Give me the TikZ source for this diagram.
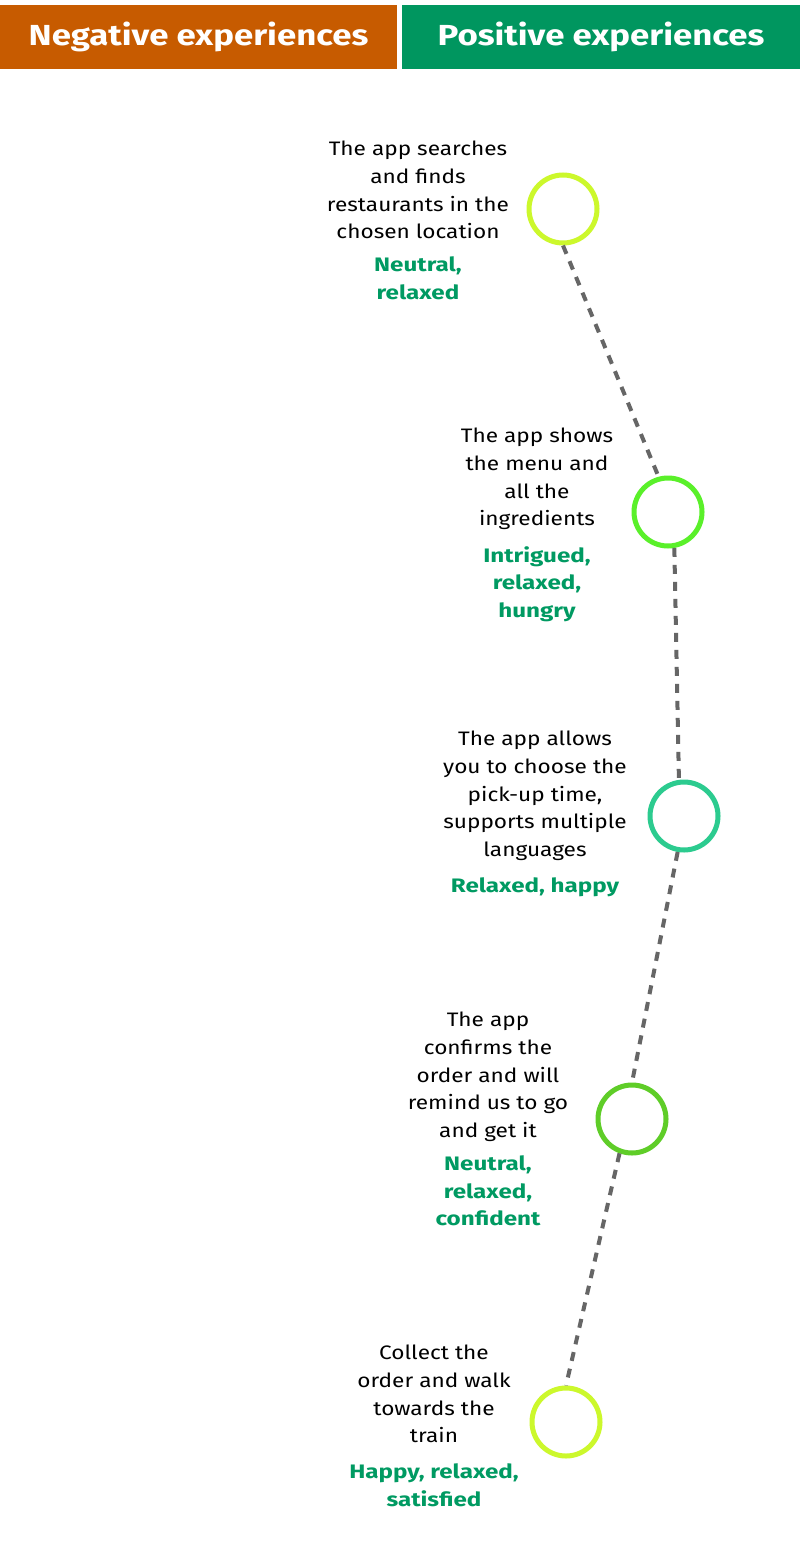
\documentclass[tikz,border=0pt]{standalone}
\usepackage{fontspec}
\setmainfont{Fira Sans}[FakeStretch=1.16]
\newfontfamily\headfont{Fira Sans}[FakeStretch=1.2]
\newfontfamily\emofont{Fira Sans}[FakeStretch=1.24]
\definecolor{negc}{HTML}{C75B00}
\definecolor{posc}{HTML}{00965F}
\definecolor{emoc}{HTML}{009A62}
\definecolor{linec}{HTML}{666666}
\definecolor{cyel}{HTML}{CCF82C}
\definecolor{cgrn}{HTML}{5AF02A}
\definecolor{ctea}{HTML}{2CCB8F}
\definecolor{cmid}{HTML}{5FCD28}
\tikzset{
  header/.style={minimum height=64pt, inner sep=0pt, text=white, font=\headfont\fontsize{29}{32}\selectfont\bfseries},
  stage/.style={circle, minimum size=68pt, inner sep=0pt, line width=5pt, draw=#1},
  desc/.style={align=center, inner sep=0pt, font=\fontsize{19.5}{27.7}\selectfont},
  emo/.style={align=center, inner sep=0pt, text=emoc, font=\emofont\fontsize{19.5}{27.7}\selectfont\bfseries},
  conn/.style={draw=linec, line width=4pt, dash pattern=on 9pt off 8pt}
}
\begin{document}
\begin{tikzpicture}[x=1pt,y=-1pt]
\useasboundingbox (0,0) rectangle (800,1562);
\fill[white] (0,0) rectangle (800,1562);
\node[header, fill=negc, minimum width=397pt] (neg) at (198.5,37) {Negative experiences};
\node[header, fill=posc, minimum width=398pt] (pos) at (601,37) {Positive experiences};

\node[stage=cyel] (c1) at (563,209) {};
\node[stage=cgrn] (c2) at (668,512) {};
\node[stage=ctea] (c3) at (684,816) {};
\node[stage=cmid] (c4) at (632,1119) {};
\node[stage=cyel] (c5) at (566,1422) {};

\draw[conn] (c1.south) -- (c2.105);
\draw[conn] (c2.-80) -- (c3.98);
\draw[conn] (c3.-100) -- (c4.north);
\draw[conn] (c4.-110) -- (c5.north);

\node[desc] (d1) at (418,190) {The app searches\\and finds\\restaurants in the\\chosen location};
\node[emo] (e1) at (418,278) {Neutral,\\relaxed};

\node[desc] (d2) at (537,479) {The app shows\\the menu and\\all the\\ingredients};
\node[emo] (e2) at (537,584) {Intrigued,\\relaxed,\\hungry};

\node[desc] (d3) at (535,796) {The app allows\\you to choose the\\pick-up time,\\supports multiple\\languages};
\node[emo] (e3) at (535,887) {Relaxed, happy};

\node[desc] (d4) at (488,1077) {The app\\confirms the\\order and will\\remind us to go\\and get it};
\node[emo] (e4) at (488,1191) {Neutral,\\relaxed,\\confident};

\node[desc] (d5) at (434,1394) {Collect the\\order and walk\\towards the\\train};
\node[emo] (e5) at (434,1485) {Happy, relaxed,\\satisfied};
\end{tikzpicture}
\end{document}
